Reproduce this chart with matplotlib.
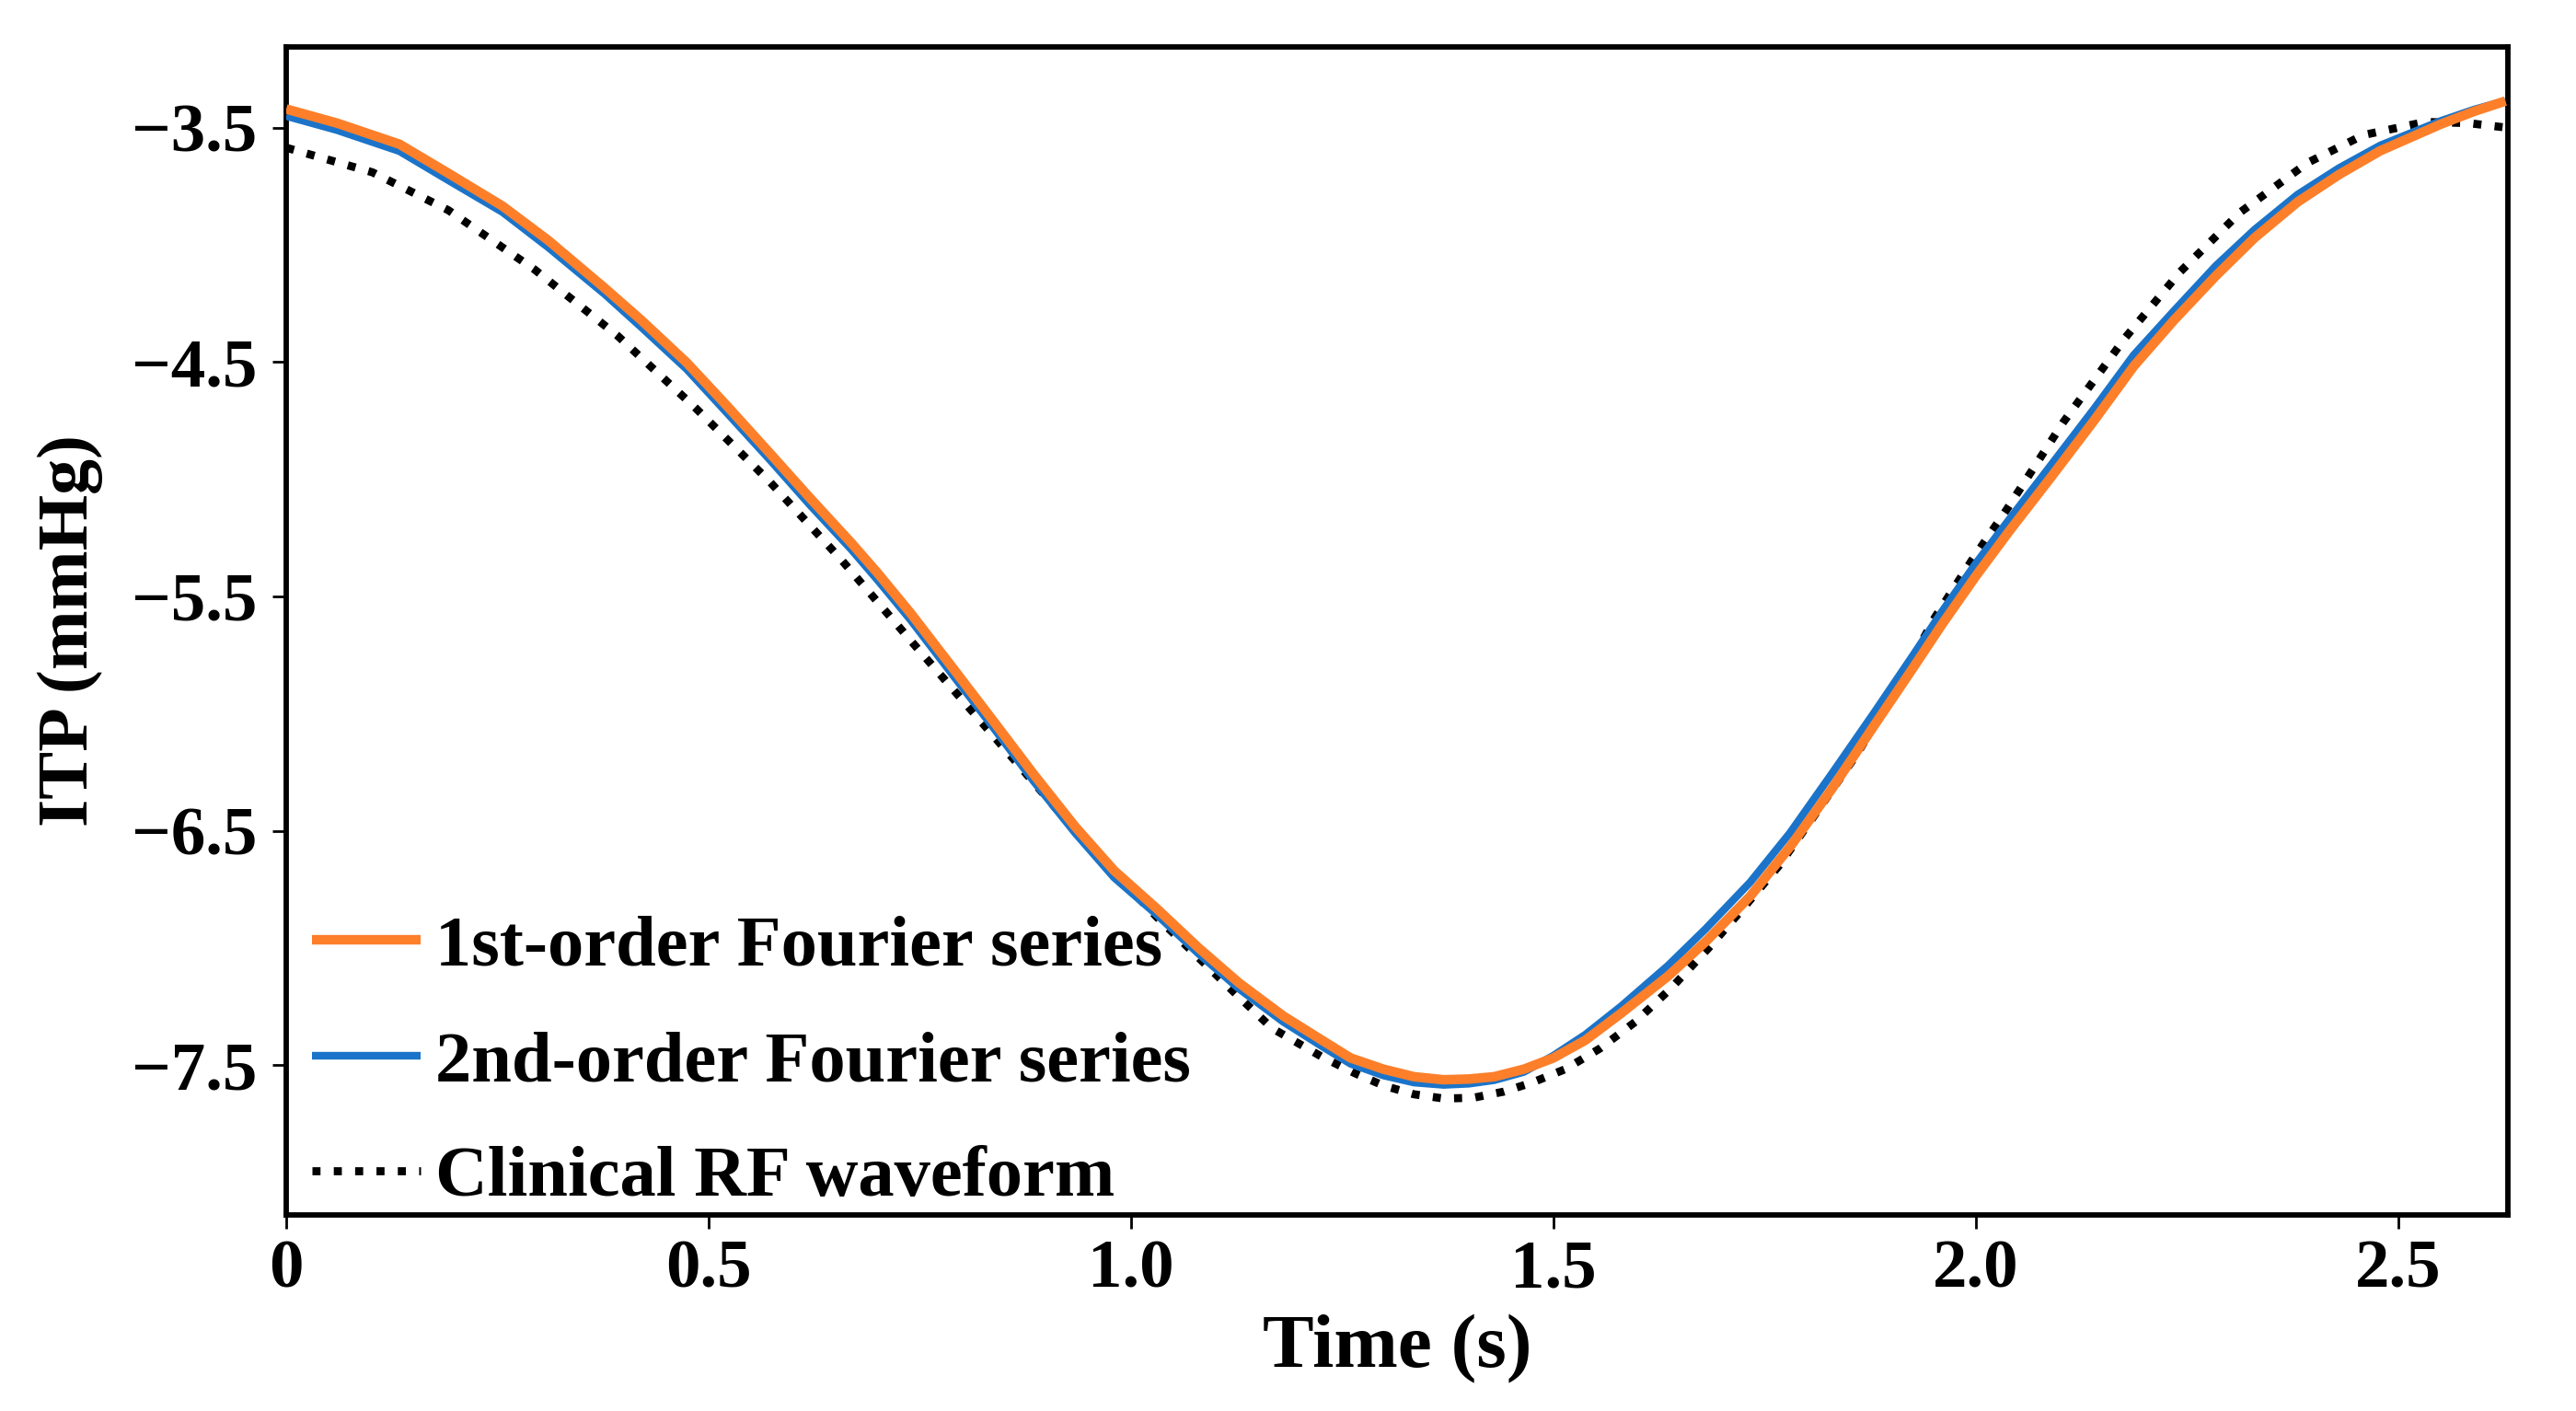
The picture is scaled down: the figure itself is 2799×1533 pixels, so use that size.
import matplotlib
matplotlib.use("Agg")
import matplotlib.pyplot as plt

# ---- data ----
t_first = [0.000, 0.060, 0.134, 0.190, 0.256, 0.310, 0.377, 0.420, 0.474, 0.520,
           0.572, 0.620, 0.669, 0.700, 0.739, 0.790, 0.836, 0.885, 0.934, 0.980,
           1.031, 1.080, 1.128, 1.180, 1.226, 1.260, 1.299, 1.335, 1.370, 1.400,
           1.430, 1.465, 1.500, 1.538, 1.580, 1.636, 1.680, 1.733, 1.780, 1.830,
           1.880, 1.927, 1.960, 2.000, 2.040, 2.089, 2.140, 2.187, 2.235, 2.284,
           2.330, 2.381, 2.430, 2.479, 2.551, 2.590, 2.627]
itp_first = [-3.420, -3.480, -3.570, -3.690, -3.834, -3.980, -4.184, -4.320, -4.502, -4.680,
             -4.887, -5.080, -5.272, -5.400, -5.571, -5.810, -6.027, -6.260, -6.483, -6.670,
             -6.834, -7.000, -7.150, -7.290, -7.394, -7.470, -7.518, -7.550, -7.563, -7.560,
             -7.550, -7.518, -7.470, -7.394, -7.280, -7.120, -6.975, -6.780, -6.570, -6.320,
             -6.050, -5.799, -5.620, -5.414, -5.220, -4.992, -4.750, -4.518, -4.320, -4.133,
             -3.970, -3.817, -3.700, -3.598, -3.484, -3.430, -3.386]

t_second = [0.000, 0.060, 0.134, 0.190, 0.256, 0.310, 0.377, 0.420, 0.474, 0.520,
            0.572, 0.620, 0.669, 0.700, 0.739, 0.790, 0.836, 0.885, 0.934, 0.980,
            1.031, 1.080, 1.128, 1.180, 1.226, 1.260, 1.299, 1.335, 1.370, 1.400,
            1.430, 1.465, 1.500, 1.538, 1.580, 1.636, 1.680, 1.733, 1.780, 1.830,
            1.880, 1.927, 1.960, 2.000, 2.040, 2.089, 2.140, 2.187, 2.235, 2.284,
            2.330, 2.381, 2.430, 2.479, 2.551, 2.590, 2.627]
itp_second = [-3.450, -3.510, -3.600, -3.720, -3.860, -4.010, -4.210, -4.350, -4.530, -4.710,
              -4.915, -5.110, -5.300, -5.430, -5.600, -5.840, -6.055, -6.290, -6.510, -6.700,
              -6.860, -7.025, -7.175, -7.315, -7.420, -7.495, -7.545, -7.575, -7.585, -7.580,
              -7.565, -7.530, -7.460, -7.370, -7.250, -7.075, -6.920, -6.720, -6.510, -6.255,
              -5.995, -5.745, -5.565, -5.360, -5.170, -4.940, -4.700, -4.470, -4.280, -4.090,
              -3.935, -3.785, -3.672, -3.575, -3.470, -3.422, -3.385]

t_clinical = [0.000, 0.102, 0.192, 0.294, 0.392, 0.484, 0.572, 0.657, 0.742, 0.836,
              0.934, 1.031, 1.128, 1.167, 1.226, 1.265, 1.299, 1.335, 1.370, 1.405,
              1.441, 1.475, 1.514, 1.555, 1.597, 1.640, 1.684, 1.725, 1.767, 1.810,
              1.860, 1.905, 1.952, 1.996, 2.036, 2.104, 2.177, 2.242, 2.313, 2.393,
              2.459, 2.532, 2.583, 2.630]
itp_clinical = [-3.585, -3.690, -3.852, -4.105, -4.387, -4.694, -5.009, -5.343, -5.700, -6.090,
                -6.500, -6.870, -7.210, -7.343, -7.465, -7.535, -7.588, -7.625, -7.643, -7.640,
                -7.614, -7.575, -7.518, -7.430, -7.316, -7.170, -7.000, -6.830, -6.650, -6.430,
                -6.170, -5.900, -5.588, -5.343, -5.133, -4.755, -4.396, -4.115, -3.861, -3.649,
                -3.531, -3.475, -3.480, -3.500]

labels = ["1st-order Fourier series", "2nd-order Fourier series", "Clinical RF waveform"]
x_ticks = [0, 0.5, 1.0, 1.5, 2.0, 2.5]
x_tick_labels = ["0", "0.5", "1.0", "1.5", "2.0", "2.5"]
y_ticks = [-3.5, -4.5, -5.5, -6.5, -7.5]

# ---- styling ----
plt.rcParams["font.family"] = ["Liberation Serif", "DejaVu Serif"]
plt.rcParams["font.weight"] = "bold"

W, H = 2799, 1533
fig = plt.figure(figsize=(W / 100, H / 100), dpi=100)
ax = fig.add_axes([311 / W, 1 - 1320 / H, (2725 - 311) / W, (1320 - 51) / H])

ORANGE = "#fd7f2a"
BLUE = "#1b74c9"

l3, = ax.plot(t_clinical, itp_clinical, color="black", lw=6.3, ls=(0, (1, 1.65)),
              dash_capstyle="butt", zorder=2)
l2, = ax.plot(t_second, itp_second, color=BLUE, lw=6.0, zorder=3,
              solid_capstyle="butt", solid_joinstyle="round")
l1, = ax.plot(t_first, itp_first, color=ORANGE, lw=7.5, zorder=4,
              solid_capstyle="butt", solid_joinstyle="round")

ax.set_xlim(0, 2.63)
ax.set_ylim(-8.14, -3.155)

ax.set_xticks(x_ticks, x_tick_labels)
ax.set_yticks(y_ticks)

for s in ax.spines.values():
    s.set_linewidth(4.2)
    s.set_color("black")

ax.tick_params(axis="both", direction="out", length=11, width=2.0, labelsize=54)
ax.tick_params(axis="x", pad=8)
ax.tick_params(axis="y", pad=12)
for lab in ax.get_xticklabels() + ax.get_yticklabels():
    lab.set_fontweight("bold")

ax.set_xlabel("Time (s)", fontsize=60, fontweight="bold", labelpad=10)
ax.set_ylabel("ITP (mmHg)", fontsize=56, fontweight="bold", labelpad=22)

leg = ax.legend([l1, l2, l3], labels, loc="lower left",
                bbox_to_anchor=(0.0052, -0.0095), frameon=False,
                prop={"family": "Liberation Serif", "weight": "bold", "size": 56.5},
                handlelength=1.5, handletextpad=0.2, labelspacing=0.68,
                borderpad=0.0, borderaxespad=0.2)

fig.savefig("out.png", dpi=100, facecolor="white")
